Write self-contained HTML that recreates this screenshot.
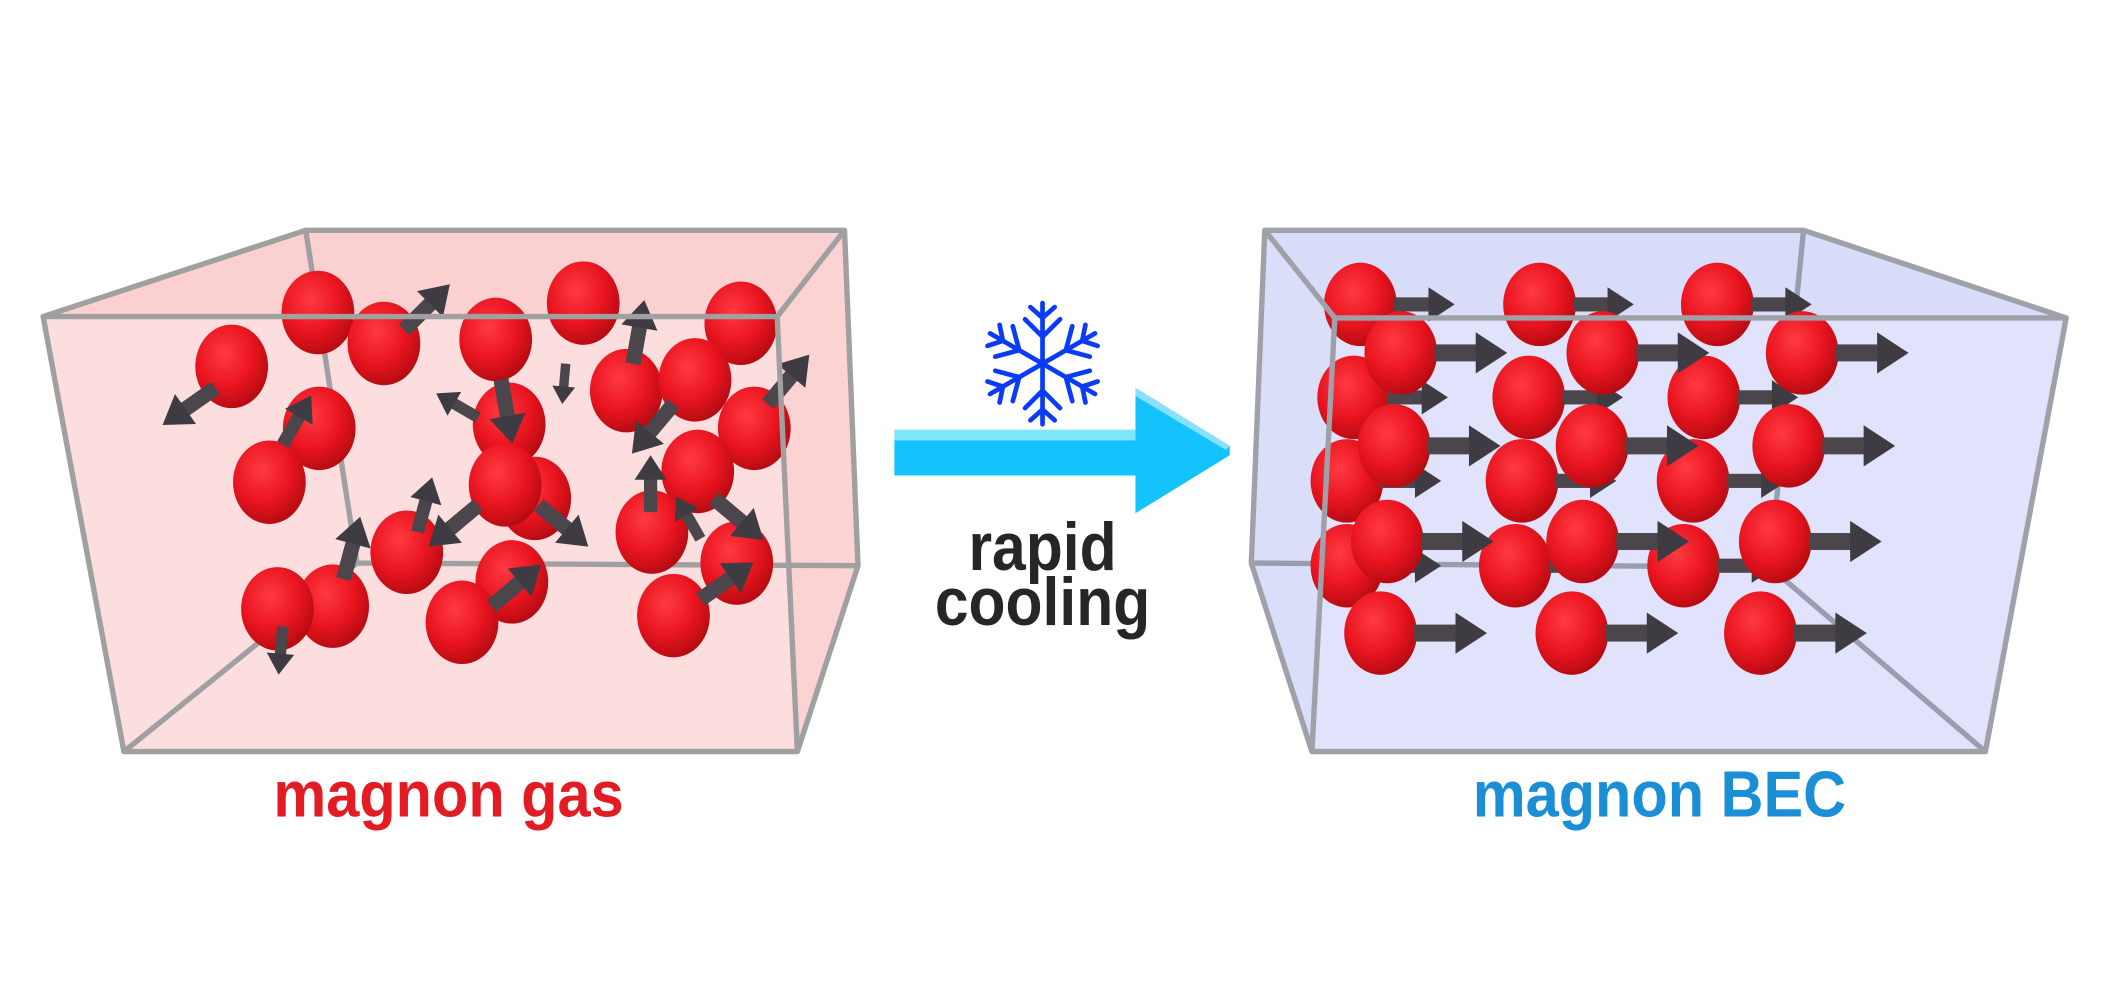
<!DOCTYPE html>
<html><head><meta charset="utf-8"><style>
html,body{margin:0;padding:0;background:#fff;width:2112px;height:1000px;overflow:hidden}
svg{display:block}
text{font-family:"Liberation Sans",sans-serif;font-weight:bold}
</style></head><body>
<svg width="2112" height="1000" viewBox="0 0 1568 742.4" preserveAspectRatio="none" xmlns="http://www.w3.org/2000/svg">
<defs>
<radialGradient id="ball" cx="0.4" cy="0.35" r="0.7">
<stop offset="0" stop-color="#ff3a42"/><stop offset="0.55" stop-color="#ea1520"/><stop offset="1" stop-color="#b00a10"/>
</radialGradient>
<g id="s"><ellipse rx="27" ry="31" fill="url(#ball)"/></g>
<g id="ar"><rect x="0" y="-7" width="36" height="14" fill="#4a464c"/><polygon points="34,-17 60,0 34,17" fill="#3f3b42"/></g>
</defs>
<!-- left box -->
<polygon points="32,235 227,171 627,171 577,235" fill="#fbd0d0"/>
<polygon points="32,235 577,235 592,558 92,558" fill="#fddada" opacity="0.9"/>
<polygon points="577,235 627,171 637,420 592,558" fill="#fcd3d3"/>
<g stroke="#a0a0a0" stroke-width="4" fill="none">
<polyline points="227,171 265,418 637,420"/>
<line x1="265" y1="418" x2="92" y2="558"/>
</g>
<g>
<use href="#s" x="236" y="232"/><use href="#s" x="285" y="255"/><use href="#s" x="368" y="252"/>
<use href="#s" x="433" y="225"/><use href="#s" x="550" y="240"/><use href="#s" x="172" y="272"/>
<use href="#s" x="237" y="318"/><use href="#s" x="200" y="358"/><use href="#s" x="378" y="315"/>
<use href="#s" x="397" y="370"/><use href="#s" x="375" y="360"/><use href="#s" x="465" y="290"/>
<use href="#s" x="516" y="282"/><use href="#s" x="560" y="318"/><use href="#s" x="518" y="350"/>
<use href="#s" x="484" y="395"/><use href="#s" x="547" y="418"/><use href="#s" x="302" y="410"/>
<use href="#s" x="380" y="432"/><use href="#s" x="247" y="450"/><use href="#s" x="206" y="452"/>
<use href="#s" x="343" y="462"/><use href="#s" x="500" y="457"/>
<use href="#ar" transform="translate(160,288) rotate(145) scale(.8)"/>
<use href="#ar" transform="translate(210,330) rotate(-60) scale(.7)"/>
<use href="#ar" transform="translate(300,245) rotate(-45) scale(.8)"/>
<use href="#ar" transform="translate(372,282) rotate(80) scale(.8)"/>
<use href="#ar" transform="translate(355,310) rotate(-150) scale(.6)"/>
<use href="#ar" transform="translate(470,270) rotate(-80) scale(.8)"/>
<use href="#ar" transform="translate(500,300) rotate(130) scale(.8)"/>
<use href="#ar" transform="translate(570,300) rotate(-50) scale(.8)"/>
<use href="#ar" transform="translate(483,380) rotate(-90) scale(.7)"/>
<use href="#ar" transform="translate(530,370) rotate(40) scale(.8)"/>
<use href="#ar" transform="translate(400,375) rotate(40) scale(.8)"/>
<use href="#ar" transform="translate(355,375) rotate(140) scale(.8)"/>
<use href="#ar" transform="translate(310,395) rotate(-75) scale(.7)"/>
<use href="#ar" transform="translate(255,430) rotate(-75) scale(.8)"/>
<use href="#ar" transform="translate(210,465) rotate(95) scale(.6)"/>
<use href="#ar" transform="translate(365,450) rotate(-40) scale(.8)"/>
<use href="#ar" transform="translate(520,445) rotate(-35) scale(.8)"/>
<use href="#ar" transform="translate(520,400) rotate(-120) scale(.6)"/>
<use href="#ar" transform="translate(420,270) rotate(95) scale(.5)"/>
</g>
<g stroke="#a0a0a0" stroke-width="4" fill="none" stroke-linejoin="round">
<polygon points="32,235 577,235 592,558 92,558"/>
<polyline points="32,235 227,171 627,171 577,235"/>
<polyline points="627,171 637,420 592,558"/>
</g>
<!-- right box -->
<polygon points="939,171 1339,171 1534,236 991,236" fill="#d8dcf8"/>
<polygon points="939,171 991,236 974,558 929,418" fill="#dadef9"/>
<polygon points="991,236 1534,236 1474,558 974,558" fill="#e0e3fb"/>
<g stroke="#9a9cb0" stroke-width="4" fill="none">
<polyline points="929,418 1314,421 1339,171"/>
<line x1="1314" y1="421" x2="1474" y2="558"/>
</g>
<g>
<use href="#s" x="1010" y="226"/><use href="#s" x="1143" y="226"/><use href="#s" x="1275" y="226"/>
<use href="#ar" transform="translate(1035,226) scale(.75)"/><use href="#ar" transform="translate(1168,226) scale(.75)"/><use href="#ar" transform="translate(1300,226) scale(.75)"/>
<use href="#s" x="1005" y="295"/><use href="#s" x="1135" y="295"/><use href="#s" x="1265" y="295"/>
<use href="#ar" transform="translate(1030,295) scale(.75)"/><use href="#ar" transform="translate(1160,295) scale(.75)"/><use href="#ar" transform="translate(1290,295) scale(.75)"/>
<use href="#s" x="1040" y="262"/><use href="#s" x="1190" y="262"/><use href="#s" x="1338" y="262"/>
<use href="#ar" transform="translate(1065,262) scale(.9)"/><use href="#ar" transform="translate(1215,262) scale(.9)"/><use href="#ar" transform="translate(1363,262) scale(.9)"/>
<use href="#s" x="1000" y="357"/><use href="#s" x="1130" y="357"/><use href="#s" x="1257" y="357"/>
<use href="#ar" transform="translate(1025,357) scale(.75)"/><use href="#ar" transform="translate(1155,357) scale(.75)"/><use href="#ar" transform="translate(1282,357) scale(.75)"/>
<use href="#s" x="1035" y="331"/><use href="#s" x="1182" y="331"/><use href="#s" x="1328" y="331"/>
<use href="#ar" transform="translate(1060,331) scale(.9)"/><use href="#ar" transform="translate(1207,331) scale(.9)"/><use href="#ar" transform="translate(1353,331) scale(.9)"/>
<use href="#s" x="1000" y="420"/><use href="#s" x="1125" y="420"/><use href="#s" x="1250" y="420"/>
<use href="#ar" transform="translate(1025,420) scale(.75)"/><use href="#ar" transform="translate(1150,420) scale(.75)"/><use href="#ar" transform="translate(1275,420) scale(.75)"/>
<use href="#s" x="1030" y="402"/><use href="#s" x="1175" y="402"/><use href="#s" x="1318" y="402"/>
<use href="#ar" transform="translate(1055,402) scale(.9)"/><use href="#ar" transform="translate(1200,402) scale(.9)"/><use href="#ar" transform="translate(1343,402) scale(.9)"/>
<use href="#s" x="1025" y="470"/><use href="#s" x="1167" y="470"/><use href="#s" x="1307" y="470"/>
<use href="#ar" transform="translate(1050,470) scale(.9)"/><use href="#ar" transform="translate(1192,470) scale(.9)"/><use href="#ar" transform="translate(1332,470) scale(.9)"/>
</g>
<g stroke="#a0a0a8" stroke-width="4" fill="none" stroke-linejoin="round">
<polygon points="991,236 1534,236 1474,558 974,558"/>
<polyline points="991,236 939,171 1339,171 1534,236"/>
<polyline points="939,171 929,418 974,558"/>
</g>
<!-- center arrow -->
<rect x="664" y="319" width="180" height="9" fill="#7fe6fc"/>
<rect x="664" y="327" width="180" height="26" fill="#14c3fb"/>
<polygon points="843,288 913,331 913,338 843,381" fill="#14c3fb"/>
<polygon points="843,288 913,331 910,334 843,294" fill="#8ae0fc"/>
<!-- snowflake -->
<g transform="translate(774,270)" stroke="#0a3cf5" stroke-width="3.5" stroke-linecap="round" fill="none">
<g id="br"><line x1="0" y1="0" x2="0" y2="-45"/><polyline points="-13,-33 0,-20 13,-33"/><polyline points="-9,-42 0,-34 9,-42"/></g>
<use href="#br" transform="rotate(60)"/><use href="#br" transform="rotate(120)"/><use href="#br" transform="rotate(180)"/><use href="#br" transform="rotate(240)"/><use href="#br" transform="rotate(300)"/>
</g>
<g transform="translate(774,0) scale(0.9,1)">
<text x="0" y="423" font-size="50" fill="#262626" text-anchor="middle">rapid</text>
<text x="0" y="464" font-size="50" fill="#262626" text-anchor="middle">cooling</text>
</g>
<g transform="translate(333,0) scale(0.92,1)">
<text x="0" y="606" font-size="48" fill="#e31b23" text-anchor="middle">magnon gas</text>
</g>
<g transform="translate(1232,0) scale(0.92,1)">
<text x="0" y="606" font-size="48" fill="#1a8fd6" text-anchor="middle">magnon BEC</text>
</g>
</svg>
</body></html>
